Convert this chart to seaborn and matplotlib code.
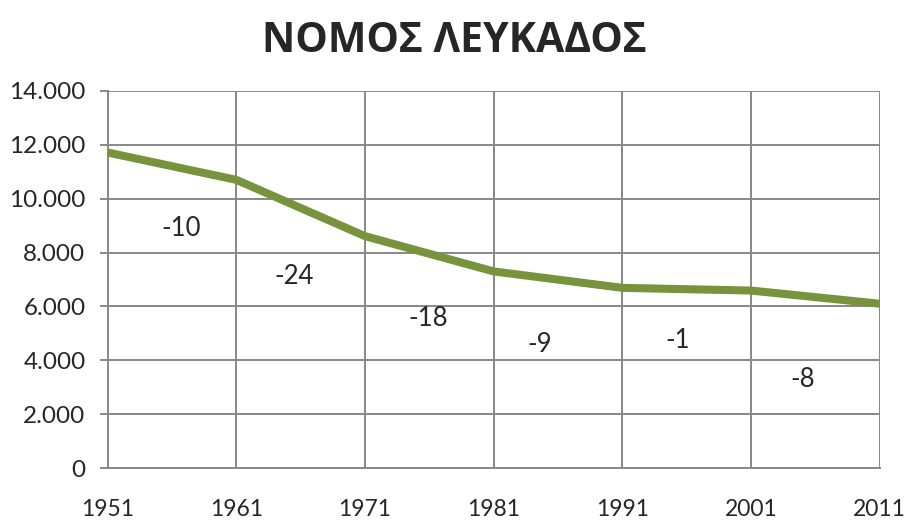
import matplotlib
matplotlib.use("Agg")
import matplotlib.pyplot as plt
import seaborn as sns
import pandas as pd
from matplotlib.ticker import FuncFormatter

years = [1951, 1961, 1971, 1981, 1991, 2001, 2011]
population = [11715, 10700, 8610, 7300, 6690, 6590, 6100]
change_labels = ["-10", "-24", "-18", "-9", "-1", "-8"]
label_x = [1956.7, 1965.5, 1975.9, 1984.6, 1995.3, 2005.0]
label_y = [8900, 7130, 5570, 4570, 4750, 3270]
title = "ΝΟΜΟΣ ΛΕΥΚΑΔΟΣ"

sns.set_style("white")
plt.rcParams['font.family'] = ['Lato', 'Open Sans', 'DejaVu Sans']

df = pd.DataFrame({"year": years, "pop": population})

fig = plt.figure(figsize=(9.05, 5.22), dpi=100)
ax = fig.add_axes([0.119, 0.1034, 0.853, 0.7223])
sns.lineplot(data=df, x="year", y="pop", ax=ax, color="#77933C", linewidth=5.8,
             solid_joinstyle="round", zorder=3)

ax.set_xlim(1951, 2011)
ax.set_ylim(0, 14000)
ax.set_xticks(years)
ax.set_yticks(range(0, 14001, 2000))
ax.yaxis.set_major_formatter(FuncFormatter(lambda v, p: f"{int(v):,}".replace(",", ".")))
ax.grid(True, color="#888888", linewidth=1.4, zorder=0)
for s in ["top", "right"]:
    ax.spines[s].set_visible(False)
for s in ["left", "bottom"]:
    ax.spines[s].set_color("#888888")
    ax.spines[s].set_linewidth(1.4)
ax.tick_params(axis="y", length=6, width=1.4, color="#888888", labelsize=17.5, pad=10, direction="out", left=True)
ax.tick_params(axis="x", length=0, labelsize=16.5, pad=22)
ax.set_xlabel("")
ax.set_ylabel("")

for x, y, t in zip(label_x, label_y, change_labels):
    ax.text(x, y, t, fontsize=18.5, ha="center", va="center", zorder=4)

fig.text(0.502, 0.921, title, ha="center", va="center", fontsize=29.5, fontweight="bold",
         family=['Open Sans', 'DejaVu Sans'])

fig.savefig("out.png", dpi=100)
